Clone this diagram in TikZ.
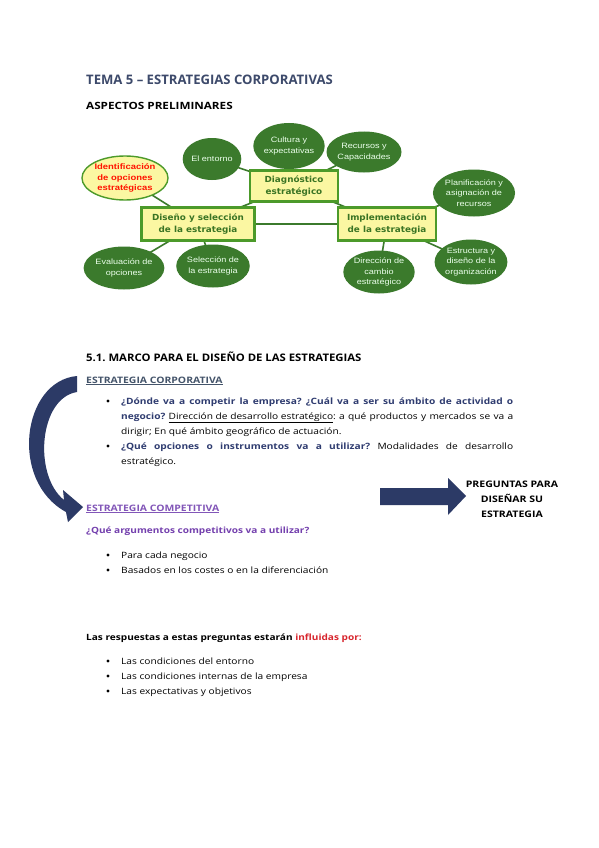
\documentclass[tikz,border=0pt]{standalone}
\usepackage{fontspec}
\setmainfont{Open Sans}
\newfontfamily\bodyfont{Open Sans}[FakeStretch=1.17]
\newfontfamily\hfont{Open Sans}[FakeStretch=1.09]
\newfontfamily\diafont{Liberation Sans}[FakeStretch=1.18]
\newfontfamily\boxfont{DejaVu Sans}[FakeStretch=1.05]
\usetikzlibrary{shapes.geometric,backgrounds}
\frenchspacing
\definecolor{egreen}{HTML}{3B7A2C}
\definecolor{bgreen}{HTML}{4C9A2A}
\definecolor{btext}{HTML}{3A7424}
\definecolor{byellow}{HTML}{FBF7A2}
\definecolor{titlec}{HTML}{3D4A6B}
\definecolor{qblue}{HTML}{2F3C70}
\definecolor{corpc}{HTML}{44546A}
\definecolor{purp}{HTML}{8256B8}
\definecolor{purpq}{HTML}{7440AE}
\definecolor{redc}{HTML}{D8262E}
\definecolor{navy}{HTML}{2C3A66}
\begin{document}
\begin{tikzpicture}[x=1pt,y=-1pt,
  ell/.style={ellipse, fill=egreen, text=white!92!green, inner sep=0pt, align=center,
    font=\diafont\fontsize{7.7}{10.4}\selectfont},
  bbox/.style={rectangle, draw=bgreen, line width=2.2pt, fill=byellow, align=center,
    text=btext, inner sep=0pt, font=\boxfont\bfseries\fontsize{8.4}{11.4}\selectfont},
  link/.style={draw=egreen, line width=1.6pt},
  txt/.style={anchor=base west, inner sep=0pt, font=\bodyfont\fontsize{8.7}{10}\selectfont},
  bul/.style={circle, fill=black, inner sep=0pt, minimum size=3.4pt},
]
\useasboundingbox (0,0) rectangle (599,848);

% ---------- diagram ----------
\node[bbox, minimum width=88, minimum height=31] (diag) at (294,186) {Diagnóstico\\estratégico};
\node[bbox, minimum width=113, minimum height=33] (dis) at (198,224) {Diseño y selección\\de la estrategia};
\node[bbox, minimum width=98, minimum height=33] (imp) at (387,224) {Implementación\\de la estrategia};

\node[ell, minimum width=51, minimum height=42] (ent) at (212,159) {El entorno};
\node[ell, minimum width=62, minimum height=46] (cul) at (289,146) {Cultura y\\expectativas};
\node[ell, minimum width=62, minimum height=41] (rec) at (364,152) {Recursos y\\Capacidades};
\node[ell, fill=byellow, draw=bgreen, line width=1.4pt, minimum width=74, minimum height=44,
      text=red!85!orange, font=\diafont\bfseries\fontsize{8}{10.8}\selectfont] (ide) at (125,178)
      {Identificación\\de opciones\\estratégicas};
\node[ell, minimum width=71, minimum height=47] (pla) at (474,193) {Planificación y\\asignación de\\recursos};
\node[ell, minimum width=63, minimum height=43] (eva) at (124,268) {Evaluación de\\opciones};
\node[ell, minimum width=61, minimum height=43] (sel) at (213,266) {Selección de\\la estrategia};
\node[ell, minimum width=68, minimum height=43] (dir) at (379,272) {Dirección de\\cambio\\estratégico};
\node[ell, minimum width=62, minimum height=45] (est) at (471,262) {Estructura y\\diseño de la\\organización};

\begin{scope}[on background layer]
  \fill[white] (0,0) rectangle (599,848);
  \draw[link] (ent.center) -- (diag.center);
  \draw[link] (cul.center) -- (diag.center);
  \draw[link] (rec.center) -- (diag.center);
  \draw[link] (diag.center) -- (dis.center);
  \draw[link] (diag.center) -- (imp.center);
  \draw[link] (dis.center) -- (imp.center);
  \draw[link] (ide.center) -- (dis.center);
  \draw[link] (dis.center) -- (eva.center);
  \draw[link] (dis.center) -- (sel.center);
  \draw[link] (imp.center) -- (dir.center);
  \draw[link] (imp.center) -- (pla.center);
  \draw[link] (imp.center) -- (est.center);
\end{scope}

% ---------- headings ----------
\node[txt, text=titlec, font=\bfseries\fontsize{13.1}{14}\selectfont] (tema) at (86,85) {TEMA 5 – ESTRATEGIAS CORPORATIVAS};
\node[txt, font=\bodyfont\bfseries\fontsize{10}{12}\selectfont] (asp) at (86,110) {ASPECTOS PRELIMINARES};
\node[txt, font=\hfont\bfseries\fontsize{10.4}{12}\selectfont] (marco) at (86,361) {5.1. MARCO PARA EL DISEÑO DE LAS ESTRATEGIAS};

% ---------- corporate strategy ----------
\node[txt, text=corpc, font=\bodyfont\bfseries\fontsize{8.9}{10}\selectfont] (corp) at (86,383) {\underline{ESTRATEGIA CORPORATIVA}};
\node[bul] (b1) at (108,401) {};
\node[txt] (l1) at (121,404) {\makebox[392pt][s]{\bfseries\color{qblue}¿Dónde va a competir la empresa? ¿Cuál va a ser su ámbito de actividad o}};
\node[txt] (l2) at (121,419) {\makebox[392pt][s]{{\bfseries\color{qblue}negocio?} \underline{Dirección de desarrollo estratégico}: a qué productos y mercados se va a}};
\node[txt] (l3) at (121,434) {dirigir; En qué ámbito geográfico de actuación.};
\node[bul] (b2) at (108,446) {};
\node[txt] (l4) at (121,449) {\makebox[392pt][s]{{\bfseries\color{qblue}¿Qué opciones o instrumentos va a utilizar?} Modalidades de desarrollo}};
\node[txt] (l5) at (121,464) {estratégico.};

% ---------- competitive strategy ----------
\node[txt, text=purp, font=\bodyfont\bfseries\fontsize{8.9}{10}\selectfont] (comp) at (86,511) {\underline{ESTRATEGIA COMPETITIVA}};
\node[txt, text=purpq, font=\bodyfont\bfseries\fontsize{8.6}{10}\selectfont] (argq) at (86,533) {¿Qué argumentos competitivos va a utilizar?};
\node[bul] (b3) at (108,555) {};
\node[txt] (c1) at (121,558) {Para cada negocio};
\node[bul] (b4) at (108,570) {};
\node[txt] (c2) at (121,573) {Basados en los costes o en la diferenciación};

% ---------- big arrow and question ----------
\fill[navy] (380,488) -- (448,488) -- (448,478) -- (466,496) -- (448,515) -- (448,505) -- (380,505) -- cycle;
\node[anchor=base, inner sep=0pt, align=center, font=\bodyfont\bfseries\fontsize{9}{15}\selectfont] (preg) at (512,517)
  {PREGUNTAS PARA\\DISEÑAR SU\\ESTRATEGIA};

% ---------- curved arrow ----------
\fill[navy] (77,376) .. controls (22,381) and (9,481) .. (66,512) -- (68,522) -- (83,507) -- (63,490) -- (64,500)
  .. controls (33,475) and (39,398) .. (77,392) -- cycle;

% ---------- answers ----------
\node[txt, font=\bodyfont\bfseries\fontsize{8.6}{10}\selectfont] (resp) at (86,640) {Las respuestas a estas preguntas estarán {\color{redc}influidas por:}};
\node[bul] (b5) at (108,661) {};
\node[txt] (r1) at (121,664) {Las condiciones del entorno};
\node[bul] (b6) at (108,676) {};
\node[txt] (r2) at (121,679) {Las condiciones internas de la empresa};
\node[bul] (b7) at (108,691) {};
\node[txt] (r3) at (121,694) {Las expectativas y objetivos};
\end{tikzpicture}
\end{document}
